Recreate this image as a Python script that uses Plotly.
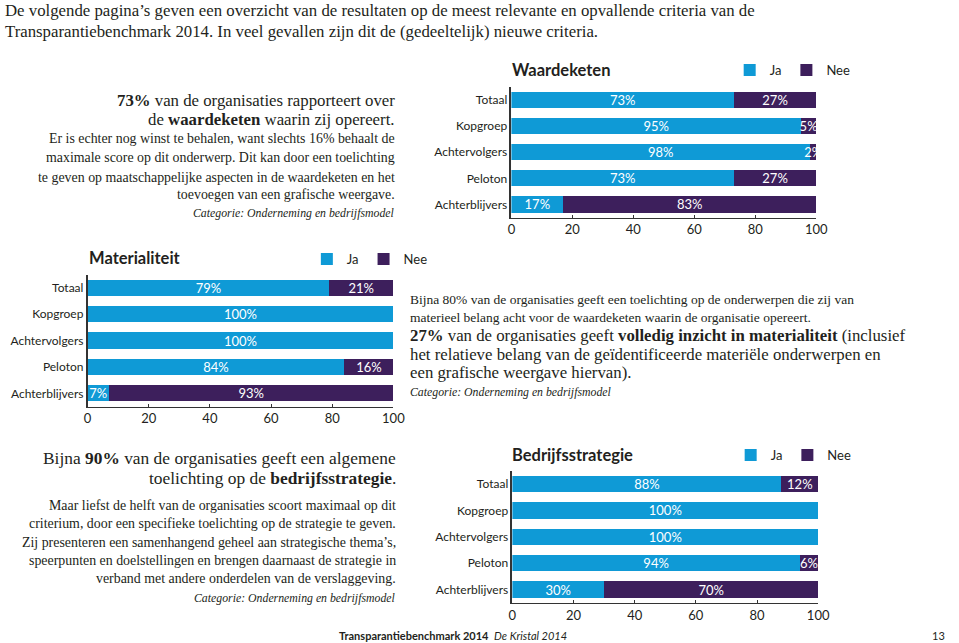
import plotly.graph_objects as go

W, H = 959, 643

categories = ["Totaal", "Kopgroep", "Achtervolgers", "Peloton", "Achterblijvers"]

waardeketen_ja = [73, 95, 98, 73, 17]
waardeketen_nee = [27, 5, 2, 27, 83]
materialiteit_ja = [79, 100, 100, 84, 7]
materialiteit_nee = [21, 0, 0, 16, 93]
strategie_ja = [88, 100, 100, 94, 30]
strategie_nee = [12, 0, 0, 6, 70]

x_ticks = [0, 20, 40, 60, 80, 100]
series_names = ["Ja", "Nee"]
chart_titles = ["Waardeketen", "Materialiteit", "Bedrijfsstrategie"]

intro_lines = [
    "De volgende pagina’s geven een overzicht van de resultaten op de meest relevante en opvallende criteria van de",
    "Transparantiebenchmark 2014. In veel gevallen zijn dit de (gedeeltelijk) nieuwe criteria.",
]
block1_big = [
    "<b>73%</b> van de organisaties rapporteert over",
    "de <b>waardeketen</b> waarin zij opereert.",
]
block1_small = [
    "Er is echter nog winst te behalen, want slechts 16% behaalt de",
    "maximale score op dit onderwerp. Dit kan door een toelichting",
    "te geven op maatschappelijke aspecten in de waardeketen en het",
    "toevoegen van een grafische weergave.",
]
block2_small = [
    "Bijna 80% van de organisaties geeft een toelichting op de onderwerpen die zij van",
    "materieel belang acht voor de waardeketen waarin de organisatie opereert.",
]
block2_big = [
    "<b>27%</b> van de organisaties geeft <b>volledig inzicht in materialiteit</b> (inclusief",
    "het relatieve belang van de geïdentificeerde materiële onderwerpen en",
    "een grafische weergave hiervan).",
]
block3_big = [
    "Bijna <b>90%</b> van de organisaties geeft een algemene",
    "toelichting op de <b>bedrijfsstrategie</b>.",
]
block3_small = [
    "Maar liefst de helft van de organisaties scoort maximaal op dit",
    "criterium, door een specifieke toelichting op de strategie te geven.",
    "Zij presenteren een samenhangend geheel aan strategische thema’s,",
    "speerpunten en doelstellingen en brengen daarnaast de strategie in",
    "verband met andere onderdelen van de verslaggeving.",
]
categorie_text = "<i>Categorie: Onderneming en bedrijfsmodel</i>"
footer_main = "<b>Transparantiebenchmark 2014</b>  <i>De Kristal 2014</i>"
page_number = "13"

JA_COLOR = "#0f9ad6"
NEE_COLOR = "#3d1f5c"
TEXT = "#231f20"
SANS = "Lato"
SERIF = "Liberation Serif"


def px_x(x):
    return x / W


def px_y(y):
    return 1 - y / H


fig = go.Figure()

charts = [
    (waardeketen_ja, waardeketen_nee, "", "legend", (516, 826), (87, 217.5)),
    (materialiteit_ja, materialiteit_nee, "2", "legend2", (85, 396), (274.5, 406.5)),
    (strategie_ja, strategie_nee, "3", "legend3", (517, 828), (470.8, 602.9)),
]

for ja, nee, sfx, leg, (x0, x1), (y0, y1) in charts:
    for name, vals, col in [("Ja", ja, JA_COLOR), ("Nee", nee, NEE_COLOR)]:
        fig.add_trace(go.Bar(
            y=categories, x=vals, name=name, orientation="h",
            marker=dict(color=col, line=dict(width=0)),
            text=[f"{v}%" if v > 0 else "" for v in vals],
            textposition="inside", insidetextanchor="middle",
            constraintext="none", textangle=0,
            insidetextfont=dict(family=SANS, size=13, color="white"),
            xaxis="x" + sfx, yaxis="y" + sfx, legend=leg,
            cliponaxis=False, hoverinfo="skip",
        ))
    fig.update_layout(**{
        "xaxis" + sfx: dict(
            domain=[px_x(x0), px_x(x1)], range=[0, 100], tickvals=x_ticks,
            showgrid=False, zeroline=False, showline=True, linecolor="#333",
            linewidth=1, ticks="inside", ticklen=3, tickcolor="#333",
            tickfont=dict(family=SANS, size=13, color=TEXT),
            anchor="y" + sfx, fixedrange=True,
        ),
        "yaxis" + sfx: dict(
            domain=[px_y(y1), px_y(y0)], autorange="reversed",
            type="category", showgrid=False, zeroline=False,
            showline=True, linecolor="#333", linewidth=1.5, ticks="",
            ticklabelstandoff=0,
            tickfont=dict(family=SANS, size=12, color=TEXT),
            anchor="x" + sfx, fixedrange=True,
        ),
    })

legend_pos = [("legend", 738, 70), ("legend2", 308, 259), ("legend3", 739, 455)]
for leg, lx, ly in legend_pos:
    fig.update_layout(**{leg: dict(
        orientation="h", x=px_x(lx), y=px_y(ly), xanchor="left", yanchor="middle",
        font=dict(family=SANS, size=13, color=TEXT), bgcolor="rgba(0,0,0,0)",
        borderwidth=0, itemclick=False, itemdoubleclick=False,
        traceorder="normal", itemwidth=30,
    )})

ann = []


def add(text, x, y, size, anchor="left", family=SERIF, color=TEXT):
    ann.append(dict(text=text, x=px_x(x), y=px_y(y), xref="paper", yref="paper",
                    xanchor=anchor, yanchor="middle", showarrow=False,
                    font=dict(family=family, size=size, color=color)))


# chart titles
for title, (tx, ty) in zip(chart_titles, [(515, 70), (84, 258), (515, 455)]):
    add(f"<b>{title}</b>", tx, ty, 16.5, "left", SANS)

# intro
for line, y in zip(intro_lines, [10, 32]):
    add(line, -1, y, 16.8, "left")

# block 1
for line, y in zip(block1_big, [100, 119]):
    add(line, 400, y, 16.8, "right")
for line, y in zip(block1_small, [138, 158, 177, 195]):
    add(line, 400, y, 13.9, "right")
add(categorie_text, 400, 213, 11.8, "right")

# block 2
for line, y in zip(block2_small, [299, 317]):
    add(line, 411, y, 13.5, "left")
for line, y in zip(block2_big, [335, 354, 372]):
    add(line, 411, y, 16.8, "left")
add(categorie_text, 411, 392, 11.8, "left")

# block 3
for line, y in zip(block3_big, [458, 478]):
    add(line, 401, y, 17.4, "right")
for line, y in zip(block3_small, [505, 523, 542, 560, 578]):
    add(line, 401, y, 13.9, "right")
add(categorie_text, 401, 598, 11.8, "right")

# footer
add(footer_main, 339, 635, 11, "left", SANS)
add(page_number, 959, 635, 11, "right", SANS)

fig.update_layout(
    width=W, height=H, autosize=False,
    margin=dict(l=0, r=0, t=0, b=0),
    paper_bgcolor="white", plot_bgcolor="white",
    barmode="stack", bargap=0.38,
    annotations=ann, showlegend=True,
)

fig.write_html(
    "out.html",
    config={"displayModeBar": False},
    post_script="document.body.style.margin='0px';document.body.style.overflow='hidden';",
)
